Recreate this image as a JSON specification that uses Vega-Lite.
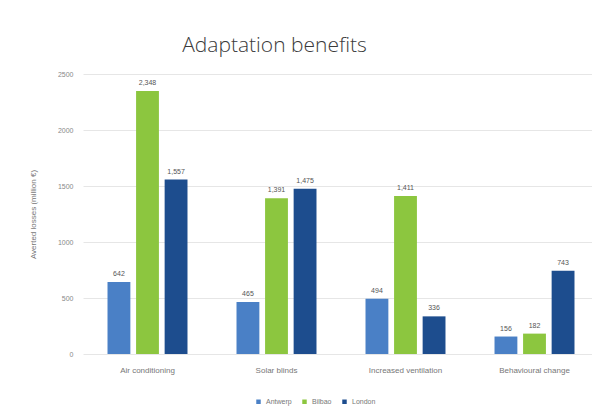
{
  "$schema": "https://vega.github.io/schema/vega-lite/v6.json",
  "autosize": {"type": "none"},
  "width": 509,
  "height": 280,
  "padding": {"left": 83, "top": 74, "right": 0, "bottom": 63},
  "background": "white",
  "title": {
    "text": "Adaptation benefits",
    "font": "Open Sans",
    "fontSize": 21,
    "fontWeight": 300,
    "color": "#3a3a3a",
    "anchor": "middle",
    "dx": -63,
    "offset": 14
  },
  "data": {
    "values": [
      {"measure": "Air conditioning", "city": "Antwerp", "value": 642},
      {"measure": "Air conditioning", "city": "Bilbao", "value": 2348},
      {"measure": "Air conditioning", "city": "London", "value": 1557},
      {"measure": "Solar blinds", "city": "Antwerp", "value": 465},
      {"measure": "Solar blinds", "city": "Bilbao", "value": 1391},
      {"measure": "Solar blinds", "city": "London", "value": 1475},
      {"measure": "Increased ventilation", "city": "Antwerp", "value": 494},
      {"measure": "Increased ventilation", "city": "Bilbao", "value": 1411},
      {"measure": "Increased ventilation", "city": "London", "value": 336},
      {"measure": "Behavioural change", "city": "Antwerp", "value": 156},
      {"measure": "Behavioural change", "city": "Bilbao", "value": 182},
      {"measure": "Behavioural change", "city": "London", "value": 743}
    ]
  },
  "encoding": {
    "x": {
      "field": "measure",
      "type": "nominal",
      "sort": null,
      "scale": {"range": [0, 516], "paddingInner": 0.38, "paddingOuter": 0.19},
      "axis": {
        "title": null,
        "labelAngle": 0,
        "labelFont": "Liberation Sans",
        "labelFontSize": 8,
        "labelColor": "#777777",
        "labelPadding": 12,
        "ticks": false,
        "domain": false
      }
    },
    "xOffset": {
      "field": "city",
      "type": "nominal",
      "scale": {"paddingInner": 0.2, "paddingOuter": 0}
    },
    "y": {
      "field": "value",
      "type": "quantitative",
      "scale": {"domain": [0, 2500], "nice": false},
      "axis": {
        "title": "Averted losses (million €)",
        "titleFont": "Liberation Sans",
        "titleFontSize": 8,
        "titleFontWeight": "normal",
        "titleColor": "#777777",
        "titlePadding": 20,
        "values": [0, 500, 1000, 1500, 2000, 2500],
        "format": "d",
        "labelFont": "Liberation Sans",
        "labelFontSize": 7,
        "labelColor": "#888888",
        "labelPadding": 10,
        "ticks": false,
        "domain": false,
        "gridColor": "#e6e6e6"
      }
    }
  },
  "layer": [
    {
      "mark": {"type": "bar"},
      "encoding": {
        "color": {
          "field": "city",
          "type": "nominal",
          "scale": {"domain": ["Antwerp", "Bilbao", "London"], "range": ["#4a80c6", "#8cc63f", "#1d4d8e"]},
          "legend": {
            "title": null,
            "orient": "none",
            "direction": "horizontal",
            "legendX": 172,
            "legendY": 324,
            "symbolType": "square",
            "symbolSize": 20,
            "labelFont": "Liberation Sans",
            "labelFontSize": 7,
            "labelColor": "#777777",
            "columnPadding": 9
          }
        }
      }
    },
    {
      "mark": {"type": "text", "baseline": "bottom", "dy": -5, "font": "Liberation Sans", "fontSize": 7, "fill": "#555555"},
      "encoding": {
        "text": {"field": "value", "type": "quantitative", "format": ","}
      }
    }
  ],
  "config": {
    "view": {"stroke": null}
  }
}
